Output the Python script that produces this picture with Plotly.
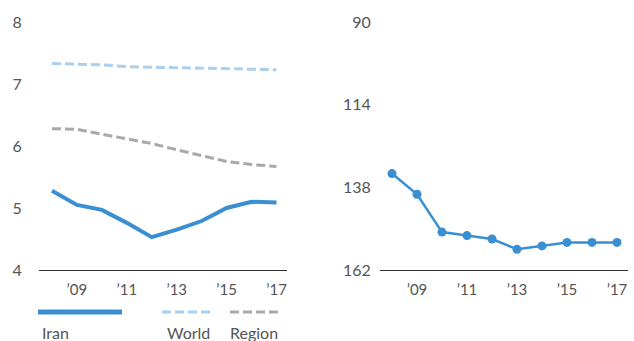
import plotly.graph_objects as go

# Iran vs World / Region score (left) and rank (right)
years = [2008, 2009, 2010, 2011, 2012, 2013, 2014, 2015, 2016, 2017]
iran_score = [5.28, 5.05, 4.97, 4.76, 4.53, 4.65, 4.79, 5.0, 5.10, 5.09]
world_score = [7.33, 7.32, 7.31, 7.28, 7.27, 7.26, 7.26, 7.24, 7.24, 7.23]
region_score = [6.28, 6.27, 6.19, 6.12, 6.04, 5.94, 5.85, 5.75, 5.70, 5.67]
iran_rank = [134, 140, 151, 152, 153, 156, 155, 154, 154, 154]

score_ticks = [4, 5, 6, 7, 8]
rank_ticks = [90, 114, 138, 162]
year_ticks = [2009, 2011, 2013, 2015, 2017]
year_labels = ["\u201909", "\u201911", "\u201913", "\u201915", "\u201917"]

BLUE = "#3a8fd2"
LIGHT = "#aad0ef"
GREY = "#a9a9ab"
TEXT = "#555555"
FONT = "Lato"

fig = go.Figure()

fig.add_trace(go.Scatter(x=years, y=world_score, mode="lines", xaxis="x", yaxis="y",
                         line=dict(color=LIGHT, width=3, dash="9px,4px")))
fig.add_trace(go.Scatter(x=years, y=region_score, mode="lines", xaxis="x", yaxis="y",
                         line=dict(color=GREY, width=3, dash="9px,4px")))
fig.add_trace(go.Scatter(x=years, y=iran_score, mode="lines", xaxis="x", yaxis="y",
                         line=dict(color=BLUE, width=4)))
fig.add_trace(go.Scatter(x=years, y=iran_rank, mode="lines+markers", xaxis="x2", yaxis="y2",
                         line=dict(color=BLUE, width=2.5),
                         marker=dict(color=BLUE, size=9)))

xcommon = dict(tickvals=year_ticks, ticktext=year_labels, showgrid=False, zeroline=False,
               showline=True, linecolor="#333333", linewidth=1, automargin=False,
               ticks="outside", ticklen=6, tickcolor="rgba(0,0,0,0)",
               tickfont=dict(family=FONT, size=15, color=TEXT))
fig.update_layout(
    width=634, height=341,
    margin=dict(l=0, r=0, t=0, b=0),
    paper_bgcolor="white", plot_bgcolor="white",
    showlegend=False,
    font=dict(family=FONT, color=TEXT),
    xaxis=dict(domain=[39 / 634, 287 / 634], range=[2007.48, 2017.42], anchor="y", **xcommon),
    xaxis2=dict(domain=[380 / 634, 628 / 634], range=[2007.52, 2017.44], anchor="y2", **xcommon),
    yaxis=dict(domain=[1 - 270 / 341, 1 - 22 / 341], range=[4, 8], tickvals=score_ticks,
               showgrid=False, zeroline=False, showline=False, anchor="x", automargin=False,
               ticks="outside", ticklen=13, tickcolor="rgba(0,0,0,0)",
               tickfont=dict(family=FONT, size=16, color=TEXT)),
    yaxis2=dict(domain=[1 - 270 / 341, 1 - 22 / 341], range=[162, 90], tickvals=rank_ticks,
                showgrid=False, zeroline=False, showline=False, anchor="x2", automargin=False,
                ticks="outside", ticklen=5, tickcolor="rgba(0,0,0,0)",
                tickfont=dict(family=FONT, size=16, color=TEXT)),
)

# custom legend: line samples with labels below
legend = [("Iran", BLUE, 5, "solid", 38, 122, 40),
          ("World", LIGHT, 3, "9px,4px", 162, 211, 165),
          ("Region", GREY, 3, "9px,4px", 230, 280, 228)]
for name, color, w, dash, x0, x1, tx in legend:
    fig.add_shape(type="line", xref="paper", yref="paper",
                  x0=x0 / 634, x1=x1 / 634, y0=1 - 312 / 341, y1=1 - 312 / 341,
                  line=dict(color=color, width=w, dash=dash))
    fig.add_annotation(text=name, xref="paper", yref="paper", x=tx / 634, y=1 - 332 / 341,
                       xanchor="left", yanchor="middle", showarrow=False,
                       font=dict(family=FONT, size=16, color=TEXT))

# drop the page's default body margin so the figure sits at the window corner
fig.write_html("out.html", config={"displayModeBar": False},
               post_script="document.body.style.margin='0';")
